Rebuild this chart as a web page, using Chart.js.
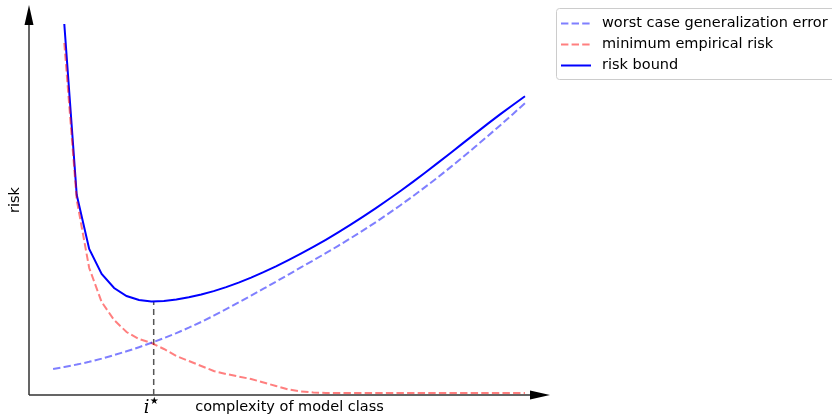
<!DOCTYPE html>
<html>
<head>
<meta charset="utf-8">
<script src="https://cdn.jsdelivr.net/npm/chart.js@4"></script>
<style>
  html, body { margin: 0; padding: 0; background: #fff; }
  #wrap { width: 832px; height: 417px; }
</style>
</head>
<body>
<div id="wrap"><canvas id="riskChart" width="832" height="417"></canvas></div>
<script>
// complexity index of each model class
const complexity = [1, 2, 3, 4, 5, 6, 7, 8, 9, 10, 11, 12, 13, 14, 15, 16, 17, 18, 19, 20,
    21, 22, 23, 24, 25, 26, 27, 28, 29, 30, 31, 32, 33, 34, 35, 36, 37, 38];
// the generalization curve starts a little earlier
const genStart = { x: 0.1, y: 0.26 };
const genError = [0.28, 0.304, 0.332, 0.364, 0.399, 0.437, 0.478, 0.522, 0.569, 0.619,
    0.673, 0.731, 0.793, 0.858, 0.926, 0.994, 1.063, 1.133, 1.204, 1.276,
    1.346, 1.418, 1.492, 1.568, 1.646, 1.727, 1.811, 1.898, 1.988, 2.081,
    2.177, 2.276, 2.378, 2.482, 2.588, 2.696, 2.806, 2.918];
const empRisk = [3.52, 1.95, 1.27, 0.93, 0.75, 0.63, 0.56, 0.52, 0.46, 0.39,
    0.34, 0.29, 0.24, 0.21, 0.185, 0.16, 0.125, 0.09, 0.055, 0.035,
    0.025, 0.02, 0.02, 0.02, 0.02, 0.02, 0.02, 0.02, 0.02, 0.02,
    0.02, 0.02, 0.02, 0.02, 0.02, 0.02, 0.02, 0.02];
const riskBound = [3.71, 2.00, 1.46, 1.21, 1.07, 0.99, 0.95, 0.935, 0.94, 0.955,
    0.977, 1.005, 1.039, 1.079, 1.124, 1.174, 1.228, 1.286, 1.348, 1.413,
    1.481, 1.552, 1.626, 1.703, 1.783, 1.866, 1.952, 2.040, 2.131, 2.225,
    2.321, 2.418, 2.516, 2.614, 2.711, 2.806, 2.898, 2.988];
const iStar = 8.18;
const iStarRisk = 0.935;
const seriesNames = ['worst case generalization error', 'minimum empirical risk', 'risk bound'];
const xTitle = 'complexity of model class';
const yTitle = 'risk';

const toPoints = vals => vals.map((v, i) => ({ x: complexity[i], y: v }));

const FONT = '14.5px "DejaVu Sans", sans-serif';

// axes with arrow heads, axis texts and the legend box
const decorPlugin = {
    id: 'decor',
    beforeDatasetsDraw(chart) {
        const ctx = chart.ctx;
        const a = chart.chartArea;
        ctx.save();
        ctx.strokeStyle = '#333';
        ctx.fillStyle = '#000';
        ctx.lineWidth = 1.5;
        ctx.beginPath();
        ctx.moveTo(a.left, a.bottom);
        ctx.lineTo(a.right - 18, a.bottom);
        ctx.moveTo(a.left, a.bottom);
        ctx.lineTo(a.left, a.top + 18);
        ctx.stroke();
        // arrow heads
        ctx.beginPath();
        ctx.moveTo(a.right, a.bottom);
        ctx.lineTo(a.right - 20, a.bottom - 4.5);
        ctx.lineTo(a.right - 20, a.bottom + 4.5);
        ctx.closePath();
        ctx.fill();
        ctx.beginPath();
        ctx.moveTo(a.left, a.top);
        ctx.lineTo(a.left - 4.5, a.top + 20);
        ctx.lineTo(a.left + 4.5, a.top + 20);
        ctx.closePath();
        ctx.fill();
        ctx.restore();
    },
    afterDraw(chart) {
        const ctx = chart.ctx;
        const a = chart.chartArea;
        const xs = chart.scales.x;
        ctx.save();
        ctx.fillStyle = '#000';
        ctx.font = FONT;
        ctx.textBaseline = 'middle';
        ctx.textAlign = 'center';
        ctx.fillText(xTitle, (a.left + a.right) / 2, 407);
        ctx.save();
        ctx.translate(15, (a.top + a.bottom) / 2);
        ctx.rotate(-Math.PI / 2);
        ctx.fillText(yTitle, 0, 0);
        ctx.restore();
        // i* label
        const px = xs.getPixelForValue(iStar);
        ctx.textBaseline = 'alphabetic';
        ctx.font = 'italic 18px "DejaVu Serif", serif';
        ctx.fillText('i', px - 7, 413);
        ctx.textBaseline = 'middle';
        ctx.font = '20px "DejaVu Sans", sans-serif';
        ctx.fillText('\u22C6', px + 0.5, 402);

        // legend
        const lx = 556, ly = 8, lw = 290, lh = 71;
        ctx.strokeStyle = '#cccccc';
        ctx.lineWidth = 1;
        ctx.beginPath();
        ctx.roundRect(lx + 0.5, ly + 0.5, lw, lh, 3);
        ctx.stroke();
        ctx.textAlign = 'left';
        ctx.font = FONT;
        const rows = [0, 1, 2];
        rows.forEach((d, r) => {
            const ds = chart.data.datasets[d];
            const y = 23.5 + r * 21;
            ctx.strokeStyle = ds.borderColor;
            ctx.lineWidth = ds.borderWidth;
            ctx.setLineDash(ds.borderDash || []);
            ctx.beginPath();
            ctx.moveTo(561, y);
            ctx.lineTo(591, y);
            ctx.stroke();
            ctx.setLineDash([]);
            ctx.fillStyle = '#000';
            ctx.fillText(ds.label, 602, y);
        });
        ctx.restore();
    }
};

const ctx = document.getElementById('riskChart').getContext('2d');
new Chart(ctx, {
    type: 'line',
    data: {
        datasets: [{
            label: seriesNames[0],
            data: [genStart].concat(toPoints(genError)),
            borderColor: 'rgba(0, 0, 255, 0.5)',
            borderWidth: 2,
            borderDash: [7.4, 3.2]
        }, {
            label: seriesNames[1],
            data: toPoints(empRisk),
            borderColor: 'rgba(255, 0, 0, 0.5)',
            borderWidth: 2,
            borderDash: [7.4, 3.2]
        }, {
            label: seriesNames[2],
            data: toPoints(riskBound),
            borderColor: '#0000ff',
            borderWidth: 2
        }, {
            label: 'i*',
            data: [{ x: iStar, y: 0 }, { x: iStar, y: iStarRisk }],
            borderColor: '#555555',
            borderWidth: 1.5,
            borderDash: [6, 4]
        }]
    },
    options: {
        responsive: false,
        animation: false,
        devicePixelRatio: 1,
        layout: { padding: { left: 29, right: 282, top: 5, bottom: 22 } },
        elements: { point: { radius: 0 }, line: { tension: 0, fill: false } },
        plugins: { legend: { display: false }, tooltip: { enabled: false } },
        scales: {
            x: { type: 'linear', min: -1.835, max: 40.01, display: false },
            y: { type: 'linear', min: 0, max: 3.90, display: false }
        }
    },
    plugins: [decorPlugin]
});
</script>
</body>
</html>
